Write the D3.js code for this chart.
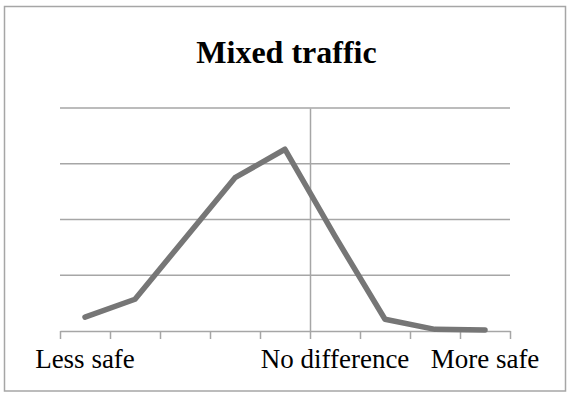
<!DOCTYPE html>
<html>
<head>
<meta charset="utf-8">
<script src="https://cdn.jsdelivr.net/npm/d3@7"></script>
<style>
  body { margin: 0; background: #fff; }
  svg text { font-family: "Liberation Serif", "Times New Roman", serif; fill: #000; }
</style>
</head>
<body>
<div id="chart"></div>
<script>
// data
const categories = ['Less safe', '', '', '', '', 'No difference', '', '', 'More safe'];
const values = [2.5, 5.7, 16.6, 27.5, 32.6, 17.0, 2.1, 0.3, 0.2];
const yTicks = [0, 10, 20, 30, 40];
const title = 'Mixed traffic';

const width = 571, height = 396;
const margin = { top: 108, bottom: 65, left: 60, right: 61 };

const svg = d3.select('#chart').append('svg')
    .attr('width', width)
    .attr('height', height);

// chart frame
svg.append('rect')
    .attr('x', 4.5).attr('y', 6.5)
    .attr('width', 561).attr('height', 384.5)
    .attr('fill', '#fff')
    .attr('stroke', '#a6a6a6')
    .attr('stroke-width', 1.5);

svg.append('text')
    .attr('x', 286.5).attr('y', 63)
    .attr('text-anchor', 'middle')
    .style('font-size', '32px')
    .style('font-weight', 'bold')
    .text(title);

// scales
let plotBottom = height - margin.bottom;
let xEdge = d3.scaleLinear().domain([0, categories.length]).range([margin.left, width - margin.right]);
let xScale = d3.scaleBand().domain(d3.range(categories.length)).range([margin.left, width - margin.right]);
let yScale = d3.scaleLinear().domain([0, d3.max(yTicks)]).range([plotBottom, margin.top]);

// horizontal gridlines
svg.append('g')
    .selectAll('line')
    .data(yTicks.slice(1))
    .join('line')
    .attr('x1', xEdge(0)).attr('x2', xEdge(categories.length))
    .attr('y1', d => yScale(d)).attr('y2', d => yScale(d))
    .attr('stroke', '#a6a6a6')
    .attr('stroke-width', 1.5);

// value axis crosses at "No difference"
svg.append('g')
    .attr('transform', `translate(${xEdge(5)},0)`)
    .call(d3.axisLeft(yScale).tickValues(yTicks).tickSize(0).tickFormat(''))
    .call(g => g.select('.domain').attr('stroke', '#a6a6a6').attr('stroke-width', 1.5));

// category axis with ticks between categories
svg.append('g')
    .attr('transform', `translate(0,${plotBottom})`)
    .call(d3.axisBottom(xEdge).tickValues(d3.range(categories.length + 1)).tickSize(8).tickSizeOuter(0).tickFormat(''))
    .call(g => g.select('.domain').attr('stroke', '#a6a6a6').attr('stroke-width', 1.5))
    .call(g => g.selectAll('.tick line').attr('stroke', '#a6a6a6').attr('stroke-width', 1.5));

// category labels
svg.append('g')
    .attr('transform', `translate(0,${plotBottom})`)
    .call(d3.axisBottom(xScale).tickSize(0).tickPadding(0).tickFormat(i => categories[i]))
    .call(g => g.select('.domain').remove())
    .call(g => g.selectAll('.tick text')
        .attr('y', 37).attr('dy', 0)
        .style('font-size', '27px')
        .style('font-family', '"Liberation Serif", serif'));

// the series line
let line = d3.line()
    .x((d, i) => xScale(i) + xScale.bandwidth() / 2)
    .y(d => yScale(d));

svg.append('path')
    .datum(values)
    .attr('d', line)
    .attr('fill', 'none')
    .attr('stroke', '#767676')
    .attr('stroke-width', 5.5)
    .attr('stroke-linecap', 'round')
    .attr('stroke-linejoin', 'round');
</script>
</body>
</html>
